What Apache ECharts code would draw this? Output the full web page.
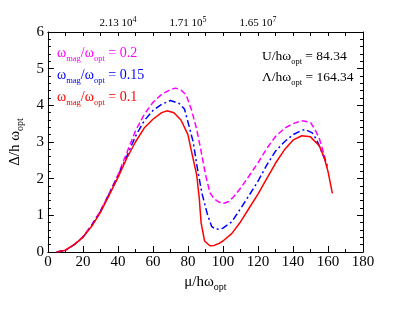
<!DOCTYPE html>
<html>
<head>
<meta charset="utf-8">
<script src="https://cdn.jsdelivr.net/npm/echarts@6/dist/echarts.min.js"></script>
<style>html,body{margin:0;padding:0;background:#fff}#c{width:409px;height:316px}</style>
</head>
<body>
<div id="c"></div>
<script>
var redX = [5,10,15,20,25,30,35,40,45,50,55,60,65,68,72,76,80,82,85,86.5,87.5,89.5,92.5,95,98,100,105,110,115,120,125,130,135,140,145,150,155,158,160,162.5];
var redY = [0,0.05,0.2,0.4,0.7,1.08,1.55,2.03,2.55,3.0,3.38,3.62,3.8,3.85,3.8,3.6,3.2,2.75,2.1,1.45,0.8,0.3,0.17,0.18,0.24,0.3,0.5,0.82,1.2,1.58,2.0,2.42,2.78,3.05,3.17,3.14,2.9,2.55,2.2,1.6];
var blueX = [5,10,15,20,25,30,35,40,45,50,55,60,65,70,75,78,80,83,85.5,88,91,93.5,95.5,98,100,105,110,115,120,125,130,135,140,145,147,151,153,155,158,160];
var blueY = [0,0.04,0.2,0.4,0.72,1.1,1.58,2.07,2.6,3.15,3.58,3.86,4.03,4.13,4.05,3.9,3.55,3.0,2.25,1.6,1.05,0.7,0.63,0.62,0.65,0.82,1.18,1.55,1.93,2.37,2.75,3.0,3.2,3.32,3.34,3.25,3.1,2.9,2.55,2.3];
var magX = [5,10,15,20,25,30,35,40,45,50,55,60,65,70,73,76,79,82,85,87.5,90,92.5,95,97.5,100,103,106,110,115,120,125,130,135,140,145,150,153,155,158,159.5];
var magY = [0,0.05,0.2,0.42,0.74,1.12,1.6,2.1,2.7,3.3,3.75,4.08,4.3,4.43,4.47,4.42,4.28,3.88,3.35,2.75,2.12,1.62,1.45,1.37,1.32,1.37,1.5,1.74,2.08,2.43,2.82,3.15,3.37,3.5,3.58,3.54,3.3,3.1,2.62,2.3];
var topTickValues = [40, 80, 120];
var topTickMantissa = ['2.13 10', '1.71 10', '1.65 10'];
var topTickExponent = ['4', '5', '7'];
var legendRatios = ['0.2', '0.15', '0.1'];
var legendColors = ['#ff00ff', '#0000ff', '#ff0000'];
var paramU = '84.34';
var paramLambda = '164.34';

function pairs(xs, ys){ return xs.map(function(x,i){ return [x, ys[i]]; }); }
var FF = 'Liberation Serif';
var chart = echarts.init(document.getElementById('c'), null, {renderer:'canvas'});

function richSet(c, big, small){
  return {
    a: {fontFamily: FF, fontSize: big, fontWeight: 'normal', color: c, lineHeight: 20, verticalAlign:'middle'},
    s: {fontFamily: FF, fontSize: small, fontWeight: 'normal', color: c, lineHeight: 10, verticalAlign:'bottom'}
  };
}
function legendTitle(i, top){
  return {
    text: '{a|ω}{s|mag}{a|/ω}{s|opt}{a| = ' + legendRatios[i] + '}',
    left: 57, top: top, padding: 0,
    textStyle: { fontWeight: 'normal', rich: richSet(legendColors[i], 14, 8.5) }
  };
}
function paramTitle(sym, val, top){
  return {
    text: '{a|' + sym + '/hω}{s|opt}{a| = ' + val + '}',
    left: 262, top: top, padding: 0,
    textStyle: { fontWeight: 'normal', rich: richSet('#000', 13.5, 8.5) }
  };
}

var axisCommon = {
  type: 'value', min: 0,
  axisLine: {show: true, onZero: false, lineStyle: {color: '#000', width: 1}},
  splitLine: {show: false}
};

var option = {
  animation: false,
  backgroundColor: '#fff',
  title: [
    legendTitle(0, 43), legendTitle(1, 65), legendTitle(2, 87),
    paramTitle('U', paramU, 46), paramTitle('Λ', paramLambda, 67)
  ],
  grid: {left: 47, top: 32, right: 46, bottom: 64, containLabel: false},
  xAxis: [
    Object.assign({}, axisCommon, {
      position: 'bottom', max: 180, interval: 20,
      axisTick: {inside: true, length: 6, lineStyle: {color:'#000'}},
      minorTick: {show: true, splitNumber: 2, length: 3, lineStyle: {color:'#000'}},
      axisLabel: {fontFamily: FF, fontSize: 15, color: '#000', margin: 3},
      name: '{a|μ/hω}{s|opt}', nameLocation: 'middle', nameGap: 9,
      nameTextStyle: {rich: richSet('#000', 15, 10)}
    }),
    Object.assign({}, axisCommon, {
      position: 'top', max: 180, interval: 10,
      axisTick: {inside: true, length: 4, lineStyle: {color:'#000'}},
      axisLabel: {
        margin: 2,
        formatter: function(v){
          var k = topTickValues.indexOf(v);
          return k < 0 ? '' : '{a|' + topTickMantissa[k] + '}{e|' + topTickExponent[k] + '}';
        },
        rich: {
          a: {fontFamily: FF, fontSize: 11, color:'#000', lineHeight: 14, verticalAlign:'middle'},
          e: {fontFamily: FF, fontSize: 8, color:'#000', lineHeight: 8, verticalAlign:'top'}
        }
      }
    })
  ],
  yAxis: [
    Object.assign({}, axisCommon, {
      position: 'left', max: 6, interval: 1,
      axisTick: {inside: true, length: 6, lineStyle: {color:'#000'}},
      minorTick: {show: true, splitNumber: 5, length: 3, lineStyle: {color:'#000'}},
      axisLabel: {fontFamily: FF, fontSize: 15, color: '#000', margin: 4},
      name: '{a|Δ/h ω}{s|opt}', nameLocation: 'middle', nameGap: 15, nameRotate: 90,
      nameTextStyle: {rich: richSet('#000', 15, 10)}
    }),
    Object.assign({}, axisCommon, {
      position: 'right', max: 6, interval: 1,
      axisTick: {inside: true, length: 6, lineStyle: {color:'#000'}},
      minorTick: {show: true, splitNumber: 5, length: 3, lineStyle: {color:'#000'}},
      axisLabel: {show: false}
    })
  ],
  series: [
    {type: 'line', name: 'mag0.2', xAxisIndex: 0, yAxisIndex: 0, data: pairs(magX, magY), showSymbol: false,
     lineStyle: {color: legendColors[0], width: 1.5, type: [6, 3]}},
    {type: 'line', name: 'mag0.15', xAxisIndex: 0, yAxisIndex: 0, data: pairs(blueX, blueY), showSymbol: false,
     lineStyle: {color: legendColors[1], width: 1.5, type: [7, 3, 2, 3]}},
    {type: 'line', name: 'mag0.1', xAxisIndex: 0, yAxisIndex: 0, data: pairs(redX, redY), showSymbol: false,
     lineStyle: {color: legendColors[2], width: 1.5}}
  ]
};
chart.setOption(option);
</script>
</body>
</html>
